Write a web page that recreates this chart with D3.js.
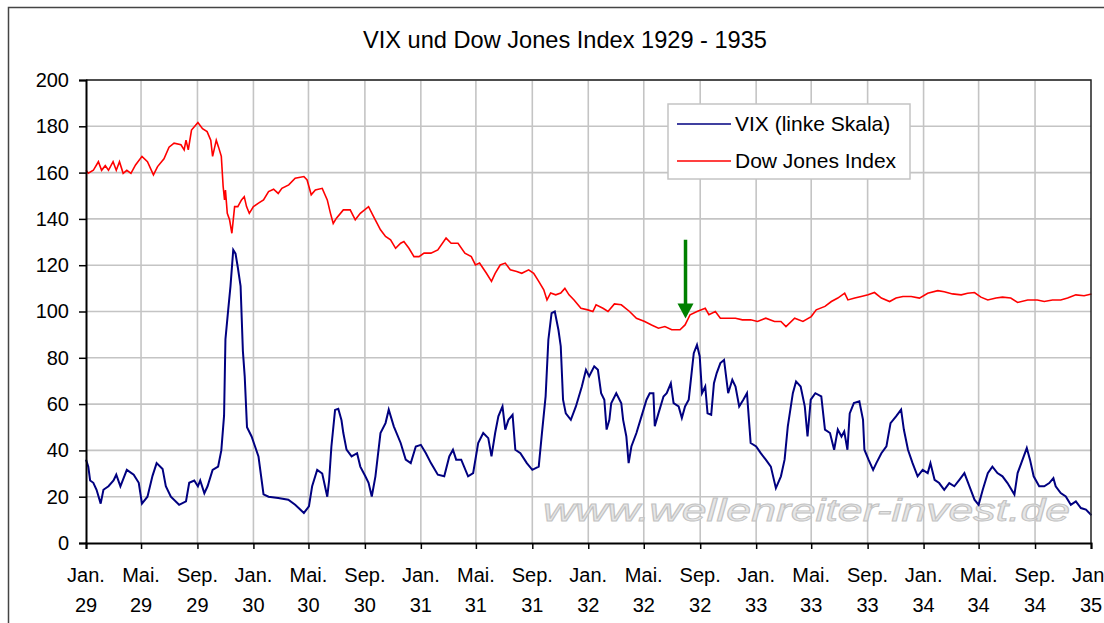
<!DOCTYPE html>
<head>
  <meta charset="utf-8">
  <title>VIX und Dow Jones 1929 - 1935</title>
  <script src="https://d3js.org/d3.v7.min.js"></script>
  <style type="text/css">
  body { margin: 0; background: #fff; }
  text { font-family: "Liberation Sans", Arial, sans-serif; fill: #000; }
  .grid line { stroke: #c4c4c4; stroke-width: 1.6; }
  </style>
</head>
<body>
  <script type="text/javascript">

    // Values: [months since Jan 1929, value]
    var vix = [
      [0,36],[0.17,33],[0.29,27],[0.53,26],[0.77,23],[1.06,17],[1.25,23],[1.61,24.5],[1.98,27],[2.17,29.5],
      [2.46,24.5],[2.94,31.6],[3.42,29.5],[3.78,26],[4.02,17],[4.39,20],[4.75,29],[5.06,34.5],[5.47,32],[5.71,24.5],
      [6.07,20],[6.67,16.5],[7.16,18],[7.4,26],[7.76,27],[8.0,24.5],[8.19,27],[8.48,21.5],[8.72,24.5],[9.08,31.6],
      [9.45,33],[9.69,40],[9.88,55],[9.98,88],[10.17,100.7],[10.36,111],[10.53,126.6],[10.7,125],[10.89,119],[11.08,111],
      [11.25,83],[11.37,72],[11.54,50],[11.86,46],[12.1,42],[12.34,37.4],[12.58,27],[12.7,21],[13.06,20],[13.78,19.4],
      [14.5,18.7],[14.99,16.5],[15.59,13],[15.95,15.8],[16.19,24.5],[16.55,31.6],[16.92,30],[17.28,20],[17.4,27],[17.59,41.7],
      [17.83,57.5],[18.07,58],[18.31,53],[18.43,47.5],[18.67,40.3],[19.03,37.4],[19.4,38.8],[19.64,33],[20.0,28.8],[20.24,26],
      [20.48,20.1],[20.72,28.8],[21.09,47.5],[21.45,51.8],[21.69,57.6],[22.05,50.4],[22.53,43.2],[22.9,36],[23.26,34.5],[23.62,41.7],
      [23.98,42.4],[24.34,38.8],[24.71,34.5],[25.19,29.5],[25.67,28.8],[26.03,37.4],[26.27,40.3],[26.52,36],[26.88,36],[27.36,28.8],
      [27.72,30.2],[28.08,43.2],[28.45,47.5],[28.81,45.3],[29.05,37.4],[29.29,47.5],[29.53,54.7],[29.82,59],[30.01,49],[30.26,53.2],
      [30.55,55.4],[30.74,40.3],[31.1,38.8],[31.58,34.5],[31.95,31.6],[32.43,33],[32.67,47.5],[32.91,63.3],[33.1,87.8],[33.34,99.3],
      [33.59,100],[33.83,92],[34.0,85],[34.16,61.9],[34.36,56],[34.72,53.2],[35.08,59],[35.52,67.6],[35.81,74.8],[36.05,72],
      [36.41,76.3],[36.65,74.8],[36.89,64.7],[37.13,61.9],[37.3,49],[37.49,53.2],[37.61,60.4],[37.98,64.7],[38.34,60.4],[38.46,53.2],
      [38.7,46],[38.87,34.5],[39.06,41.7],[39.42,47.5],[39.78,54.7],[40.14,61.9],[40.39,64.7],[40.63,64.7],[40.75,50.4],[40.99,56],
      [41.35,63.3],[41.59,64.7],[41.88,69],[42.07,60.4],[42.43,59],[42.67,54],[42.92,59],[43.16,61.9],[43.4,74.8],[43.52,82],
      [43.76,85.6],[43.95,80.6],[44.12,64.7],[44.36,67.6],[44.53,56],[44.77,55.4],[44.96,69],[45.16,73.4],[45.45,77.7],[45.69,79.1],
      [45.98,64.7],[46.29,70.5],[46.53,67.6],[46.77,59],[47.08,61.9],[47.33,64.7],[47.61,43.2],[47.98,41.7],[48.34,38.8],[48.7,36],
      [49.06,33],[49.42,23.7],[49.78,28.8],[50.02,36],[50.27,50.4],[50.63,64.7],[50.87,69.8],[51.18,67.6],[51.47,59],[51.66,46],
      [51.9,61.9],[52.24,64.7],[52.67,63.3],[52.92,49],[53.28,47.5],[53.59,40.3],[53.86,49],[54.1,46],[54.29,48.2],[54.52,40.3],
      [54.69,56],[55.0,60.4],[55.4,61.2],[55.64,53.2],[55.76,40.3],[56.05,36],[56.36,31.6],[56.6,34.5],[56.95,38.8],[57.31,41.7],
      [57.62,51.8],[58.02,54.7],[58.38,57.6],[58.57,49],[58.86,40.3],[59.21,34.5],[59.57,28.8],[59.93,31.6],[60.29,30.2],[60.48,34.5],
      [60.76,27.3],[61.12,25.9],[61.48,23],[61.83,25.9],[62.19,24.5],[62.55,27.3],[62.9,30.2],[63.26,24.5],[63.62,18.7],[63.93,16.5],
      [64.21,23],[64.57,30.2],[64.93,33],[65.29,30.2],[65.64,28.8],[66.0,25.9],[66.48,20.9],[66.71,30.2],[67.0,34.5],[67.38,41],
      [67.62,36],[67.86,28.8],[68.26,24.5],[68.62,24.5],[68.98,25.9],[69.29,28],[69.45,24.5],[69.81,21.6],[70.17,20.1],[70.52,16.5],
      [70.88,18],[71.24,15.1],[71.6,14.4],[72,12]
    ];

    var dowJones = [
      [0,161],[0.17,159.7],[0.53,161],[0.89,164.7],[1.13,161],[1.37,163],[1.61,161],[1.93,164.7],[2.17,161],[2.41,164.7],
      [2.65,159.7],[2.94,161],[3.23,159.7],[3.54,163.3],[4.02,167],[4.39,164.7],[4.82,159],[5.11,162.6],[5.59,166],[5.95,171],
      [6.31,172.7],[6.8,172],[7.04,169.8],[7.16,174],[7.33,169.8],[7.57,178.4],[8.0,181.6],[8.36,179],[8.67,177.7],[8.92,174],
      [9.08,167],[9.33,174],[9.49,171],[9.69,167],[9.81,154],[9.93,148.2],[9.98,152.5],[10.12,142.4],[10.29,139.6],[10.46,133.8],
      [10.65,145.3],[10.89,145.3],[11.13,148.2],[11.33,149.6],[11.49,145.3],[11.69,142.4],[11.98,145.3],[12.34,146.8],[12.7,148.2],[13.06,151.8],
      [13.42,152.8],[13.78,151],[14.02,153.2],[14.51,154.7],[14.99,157.6],[15.59,158.3],[15.83,156.8],[16.14,150.4],[16.43,152.5],[16.92,153.2],
      [17.28,148.2],[17.52,142.4],[17.71,138],[17.95,140.3],[18.43,143.9],[18.91,143.9],[19.28,139.6],[19.64,142.4],[20.24,145.3],[20.6,141],
      [21.09,135.3],[21.45,132.4],[21.81,131],[22.17,127.3],[22.53,129.5],[22.78,130.2],[23.14,127.3],[23.5,123.7],[23.86,123.7],[24.22,125.2],
      [24.71,125.2],[25.19,126.6],[25.79,131.7],[26.15,129.5],[26.64,129.5],[27.12,125.2],[27.6,123.7],[27.89,120.1],[28.2,120.9],[28.69,116.5],
      [29.05,113],[29.29,116.5],[29.65,120.1],[30.01,120.9],[30.38,118],[30.86,117.3],[31.22,116.5],[31.7,118],[32.07,116.5],[32.43,113],
      [32.79,109.4],[33.03,105],[33.27,108],[33.63,107.2],[33.99,108],[34.29,110],[34.6,107.2],[34.96,105],[35.44,101.4],[35.93,100.7],
      [36.29,100],[36.53,102.9],[37.01,101.4],[37.37,100],[37.86,103.3],[38.34,102.9],[38.94,100],[39.42,97.1],[40.02,95.7],[40.51,94.2],
      [40.99,92.8],[41.47,93.5],[41.95,92.1],[42.55,92.1],[42.92,94.2],[43.28,98.6],[43.76,100],[44.36,101.4],[44.6,98.6],[45.08,100],
      [45.45,97.1],[45.93,97.1],[46.53,97.1],[47.01,96.4],[47.61,96.4],[48.1,95.7],[48.7,97.1],[49.3,95.7],[49.78,95.7],[50.14,93.5],
      [50.75,97.1],[51.35,95.7],[51.95,97.8],[52.31,100.7],[52.92,102.2],[53.4,104.3],[53.86,105.8],[54.33,107.9],[54.57,105],[55.05,105.8],
      [55.52,106.5],[56.0,107.2],[56.48,108.2],[56.95,105.8],[57.55,104.3],[58.02,105.8],[58.5,106.5],[59.1,106.5],[59.69,105.8],[60.29,107.9],
      [61.0,109],[61.48,108.5],[62.07,107.6],[62.67,107.2],[63.14,107.9],[63.62,108.2],[64.1,106.2],[64.57,105],[65.17,105.8],[65.64,106.2],
      [66.24,105.8],[66.71,103.9],[67.43,105],[68.14,105],[68.62,104.3],[69.21,105],[69.81,105],[70.29,105.8],[70.88,107.2],[71.48,106.8],
      [72,107.6]
    ];

    var yTicks = [0, 20, 40, 60, 80, 100, 120, 140, 160, 180, 200];
    var monthLabels = {0: "Jan.", 4: "Mai.", 8: "Sep."};
    var seriesNames = ["VIX (linke Skala)", "Dow Jones Index"];
    var seriesColors = ["#000080", "#ff0000"];
    var arrowAt = [42.93, 131, 97]; // month, from value, to value

    function toDate(m) {
      return new Date(1929, 0, 1 + Math.round(m * 30.44));
    }

    var W = 1104, H = 623;
    var pLeft = 86, pRight = 1091, pTop = 80, pBottom = 543;

    var svg = d3.select("body").append("svg")
      .attr("width", W)
      .attr("height", H);

    // Outer frame
    svg.append("rect")
      .attr("x", 8.5).attr("y", 7.5)
      .attr("width", 1200).attr("height", 1000)
      .attr("fill", "none")
      .attr("stroke", "#444")
      .attr("stroke-width", 1.5);

    // Title
    svg.append("text")
      .attr("x", 565)
      .attr("y", 48)
      .attr("text-anchor", "middle")
      .style("font-size", "23.6px")
      .text("VIX und Dow Jones Index 1929 - 1935");

    var x = d3.scaleTime()
      .domain([new Date(1929, 0, 1), new Date(1935, 0, 1)])
      .range([pLeft, pRight]);

    var y = d3.scaleLinear()
      .domain([0, 200])
      .range([pBottom, pTop]);

    var xTicks = d3.timeMonth.range(new Date(1929, 0, 1), new Date(1935, 0, 2), 4);

    // Gridlines
    var grid = svg.append("g").attr("class", "grid");
    grid.selectAll(".h").data(yTicks.slice(1)).enter().append("line")
      .attr("x1", pLeft).attr("x2", pRight)
      .attr("y1", function(d) { return y(d); })
      .attr("y2", function(d) { return y(d); });
    grid.selectAll(".v").data(xTicks.slice(1, -1)).enter().append("line")
      .attr("x1", function(d) { return x(d); })
      .attr("x2", function(d) { return x(d); })
      .attr("y1", pTop).attr("y2", pBottom);

    // Watermark
    svg.append("text")
      .attr("x", 543)
      .attr("y", 521)
      .attr("textLength", 527)
      .attr("lengthAdjust", "spacingAndGlyphs")
      .style("font-size", "32px")
      .style("font-style", "italic")
      .style("fill", "#e6e6e6")
      .style("stroke", "#c2c2c2")
      .style("stroke-width", 0.9)
      .text("www.wellenreiter-invest.de");

    // Lines
    var line = d3.line()
      .x(function(d) { return x(toDate(d[0])); })
      .y(function(d) { return y(d[1]); });

    svg.append("path")
      .datum(dowJones)
      .attr("fill", "none")
      .attr("stroke", seriesColors[1])
      .attr("stroke-width", 1.6)
      .attr("d", line);

    svg.append("path")
      .datum(vix)
      .attr("fill", "none")
      .attr("stroke", seriesColors[0])
      .attr("stroke-width", 2)
      .attr("d", line);

    // Plot border (top, right)
    svg.append("path")
      .attr("d", "M" + pLeft + "," + pTop + "H" + pRight + "V" + pBottom)
      .attr("fill", "none")
      .attr("stroke", "#222")
      .attr("stroke-width", 1.5);

    // Y axis
    var yAxis = svg.append("g")
      .attr("transform", "translate(" + pLeft + ",0)")
      .call(d3.axisLeft(y).tickValues(yTicks).tickSize(7).tickPadding(10));
    yAxis.select(".domain").attr("stroke", "#000").attr("stroke-width", 2);
    yAxis.selectAll(".tick line").attr("stroke", "#000").attr("stroke-width", 1.5);
    yAxis.selectAll("text")
      .style("font-size", "20px")
      .style("font-family", "'Liberation Sans', Arial, sans-serif")
      .attr("fill", "#000");

    // X axis
    var xAxis = svg.append("g")
      .attr("transform", "translate(0," + pBottom + ")")
      .call(d3.axisBottom(x).tickValues(xTicks).tickSize(6).tickFormat(""));
    xAxis.select(".domain").attr("stroke", "#000").attr("stroke-width", 2);
    xAxis.selectAll(".tick line").attr("stroke", "#000").attr("stroke-width", 1.5);

    var xl = svg.append("g");
    xTicks.forEach(function(d) {
      var t = xl.append("text")
        .attr("x", x(d))
        .attr("y", 582)
        .attr("text-anchor", "middle")
        .style("font-size", "20px");
      t.append("tspan").attr("x", x(d)).text(monthLabels[d.getMonth()]);
      t.append("tspan").attr("x", x(d)).attr("dy", 30)
        .text(String(d.getFullYear()).slice(2));
    });

    // Green arrow
    var ax = x(toDate(arrowAt[0]));
    svg.append("line")
      .attr("x1", ax).attr("x2", ax)
      .attr("y1", y(arrowAt[1])).attr("y2", y(arrowAt[2]) - 12)
      .attr("stroke", "#008000")
      .attr("stroke-width", 3.5);
    svg.append("path")
      .attr("d", "M" + (ax - 8) + "," + (y(arrowAt[2]) - 15) + "L" + (ax + 8) + "," + (y(arrowAt[2]) - 15) +
        "L" + ax + "," + y(arrowAt[2]) + "Z")
      .attr("fill", "#008000");

    // Legend
    var legend = svg.append("g").attr("transform", "translate(668,104)");
    legend.append("rect")
      .attr("width", 242).attr("height", 75)
      .attr("fill", "#fff")
      .attr("stroke", "#c4c4c4")
      .attr("stroke-width", 1.5);
    seriesNames.forEach(function(name, i) {
      var ly = 20 + i * 37;
      legend.append("line")
        .attr("x1", 9).attr("x2", 63)
        .attr("y1", ly).attr("y2", ly)
        .attr("stroke", seriesColors[i])
        .attr("stroke-width", 1.5);
      legend.append("text")
        .attr("x", 67).attr("y", ly + 7)
        .style("font-size", "21px")
        .text(name);
    });

  </script>
</body>
</html>
